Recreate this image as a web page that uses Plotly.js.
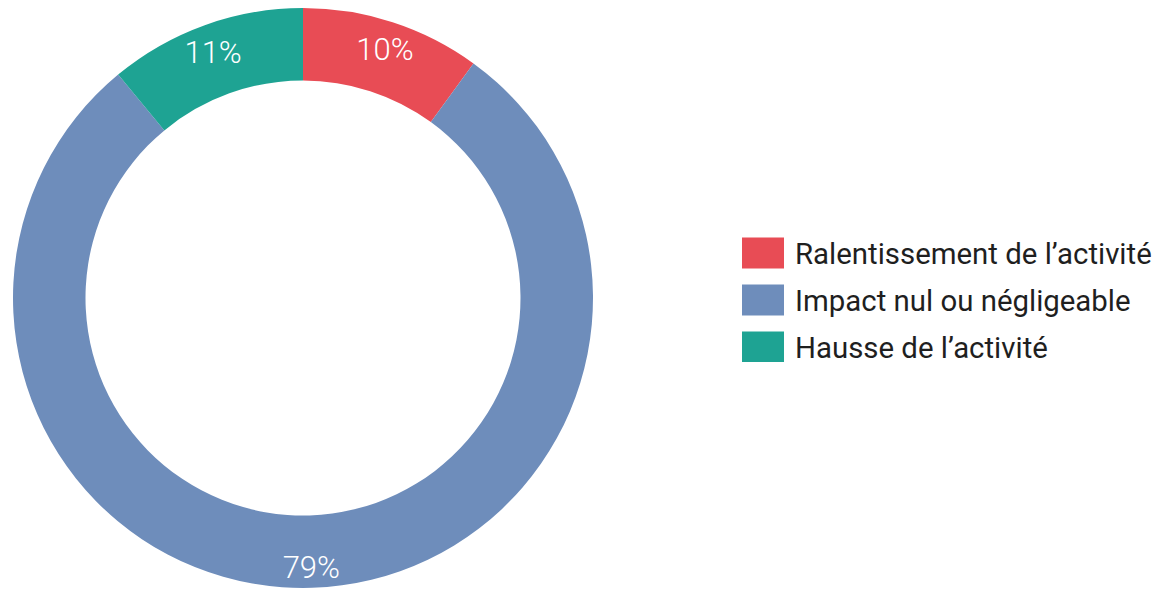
<!DOCTYPE html>
<html><head><meta charset="utf-8">
<script src="https://cdn.plot.ly/plotly-3.0.1.min.js"></script>
<style>html,body{margin:0;padding:0;background:#fff;}#chart{width:1156px;height:590px;}</style>
</head><body><div id="chart"></div>
<script>
const categories = ["Ralentissement de l\u2019activit\u00e9", "Impact nul ou n\u00e9gligeable", "Hausse de l\u2019activit\u00e9"];
const values = [10, 79, 11];
const colors = ["#E84C55", "#6E8DBB", "#1EA393"];

const trace = {
  type: 'pie',
  labels: categories,
  values: values,
  hole: 0.75,
  sort: false,
  direction: 'clockwise',
  rotation: 0,
  marker: {colors: colors, line: {color: '#ffffff', width: 0}},
  textinfo: 'percent',
  texttemplate: '%{percent:.0%}',
  textposition: 'inside',
  insidetextorientation: 'horizontal',
  textfont: {family: 'Roboto', weight: 300, size: 31, color: '#ffffff'},
  hoverinfo: 'label+percent',
  domain: {x: [13/1156, 593/1156], y: [2/590, 582/590]}
};

const layout = {
  width: 1156, height: 590,
  margin: {l: 0, r: 0, t: 0, b: 0},
  paper_bgcolor: '#ffffff',
  showlegend: true,
  legend: {
    x: 0.64, y: 0.5, xanchor: 'left', yanchor: 'middle',
    font: {family: 'Roboto', size: 29.4, color: '#1f1f1f'},
    itemwidth: 40
  },
  font: {family: 'Roboto'}
};

// presentation settings (not data)
const LABEL_RADIUS_FRAC = 0.915;
const LABEL_Y_NUDGE = 4;
const LEGEND_SYMBOL = {x: 763, y0: 253, dy: 47, w: 42, h: 31, textGap: 11};

const gd = document.getElementById('chart');
Plotly.newPlot(gd, [trace], layout, {displayModeBar: false, staticPlot: true}).then(function () {
  const svgRect = gd.querySelector('.main-svg').getBoundingClientRect();
  // --- slice labels: full size, placed along each slice's mid-angle ---
  const cd = gd.calcdata[0];
  const cd0 = cd[0];
  const slices = gd.querySelectorAll('g.slice');
  slices.forEach(function (sl, i) {
    const t = sl.querySelector('g.slicetext text');
    if (!t) return;
    const pt = cd[i];
    const tx = cd0.cx + pt.pxmid[0] * LABEL_RADIUS_FRAC;
    const ty = cd0.cy + pt.pxmid[1] * LABEL_RADIUS_FRAC + LABEL_Y_NUDGE;
    t.setAttribute('transform', '');
    const bb = t.getBBox();
    const bx = bb.x + bb.width / 2, by = bb.y + bb.height / 2;
    t.setAttribute('transform', 'translate(' + (tx - bx) + ',' + (ty - by) + ')');
  });
  // --- legend: larger rectangular swatches, wider row spacing ---
  const groups = gd.querySelectorAll('.legend .traces');
  groups.forEach(function (g, i) {
    const p = g.querySelector('.legendpoints path');
    const txt = g.querySelector('text.legendtext');
    if (p) p.setAttribute('d', 'M' + (-LEGEND_SYMBOL.w / 2) + ',' + (-LEGEND_SYMBOL.h / 2) + 'H' + (LEGEND_SYMBOL.w / 2) + 'V' + (LEGEND_SYMBOL.h / 2) + 'H' + (-LEGEND_SYMBOL.w / 2) + 'Z');
    const r = p.getBoundingClientRect();
    const cx = r.left + r.width / 2 - svgRect.left;
    const cy = r.top + r.height / 2 - svgRect.top;
    const m = /translate\(\s*([-\d.e]+)[ ,]+([-\d.e]+)\s*\)/.exec(g.getAttribute('transform') || '');
    const gx = m ? parseFloat(m[1]) : 0, gy = m ? parseFloat(m[2]) : 0;
    const wantX = LEGEND_SYMBOL.x, wantY = LEGEND_SYMBOL.y0 + i * LEGEND_SYMBOL.dy;
    g.setAttribute('transform', 'translate(' + (gx + wantX - cx) + ',' + (gy + wantY - cy) + ')');
    if (txt) {
      const tr = txt.getBoundingClientRect();
      const curLeft = tr.left - svgRect.left;
      const desiredLeft = wantX + LEGEND_SYMBOL.w / 2 + LEGEND_SYMBOL.textGap;
      const x0 = parseFloat(txt.getAttribute('x') || '0');
      txt.setAttribute('x', x0 + (desiredLeft - curLeft));
      txt.querySelectorAll('tspan[x]').forEach(function (ts) {
        ts.setAttribute('x', parseFloat(ts.getAttribute('x')) + (desiredLeft - curLeft));
      });
    }
  });
  const bg = gd.querySelector('.legend rect.bg');
  if (bg) bg.setAttribute('style', 'fill:none;stroke:none');
});
</script></body></html>
